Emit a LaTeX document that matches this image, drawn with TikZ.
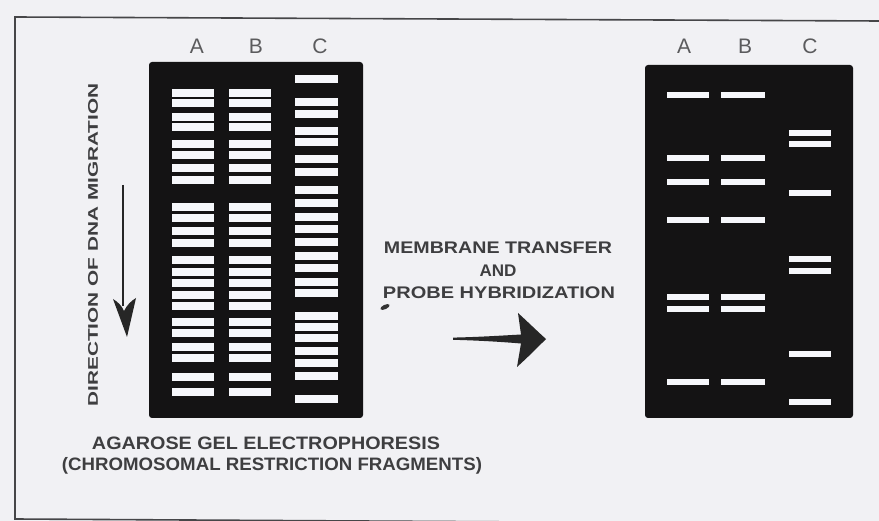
\documentclass[tikz,border=0pt]{standalone}
\usepackage{fontspec}
\setmainfont{Liberation Sans}
\usepackage{graphicx}
\definecolor{bgc}{RGB}{241,241,244}
\definecolor{gelc}{RGB}{20,19,20}
\definecolor{bandc}{RGB}{246,247,251}
\definecolor{txtc}{RGB}{62,62,64}
\definecolor{framec}{RGB}{70,70,72}
\newcommand{\wfit}[2]{\resizebox{#1pt}{\height}{#2}}
\tikzset{
  gel/.style={fill=gelc, draw=none, rounded corners=3pt, inner sep=0pt},
  band/.style={fill=bandc},
  lbl/.style={text=txtc!85, inner sep=0pt, font=\fontsize{21}{21}\selectfont},
  captxt/.style={text=txtc, inner sep=0pt},
  framel/.style={draw=framec, line width=1.6pt},
  arr/.style={fill=black!85}
}
\begin{document}
\begin{tikzpicture}[x=1pt,y=-1pt]
\useasboundingbox (0,0) rectangle (879,521);
\fill[bgc] (0,0) rectangle (879,521);
% frame
\draw[framel] (879,21) -- (15,17) -- (15,519) -- (879,524);
% gels
\node[gel, minimum width=214pt, minimum height=356pt] (gelL) at (256,240) {};
\node[gel, minimum width=208pt, minimum height=353pt] (gelR) at (749,241.5) {};
% left gel bands
\foreach \y in {93,103,117,127,144,155,168,180,207,218,231,243,260,272,283,295,306,322,333,347,358,377,392}{
  \fill[band] (172,\y-3.8) rectangle (214,\y+3.8);
  \fill[band] (229,\y-3.8) rectangle (271,\y+3.8);
}
\foreach \y in {79,102,114,131,142,159,172,190,203,217,229,242,256,268,282,293,316,327,338,351,363,376,399}{
  \fill[band] (295,\y-3.8) rectangle (338,\y+3.8);
}
% right gel bands
\foreach \y in {95,158,182,220,297,309,382}{
  \fill[band] (667,\y-3.3) rectangle (709,\y+3.3);
  \fill[band] (721,\y-3.3) rectangle (765,\y+3.3);
}
\foreach \y in {133,144,193,259,271,354,402}{
  \fill[band] (789,\y-3.3) rectangle (831,\y+3.3);
}
% lane labels
\node[lbl] (lA) at (197,46) {A};
\node[lbl] (lB) at (256,46) {B};
\node[lbl] (lC) at (320,46) {C};
\node[lbl] (rA) at (684,46) {A};
\node[lbl] (rB) at (745,46) {B};
\node[lbl] (rC) at (810,46) {C};
% direction text and arrow
\node[captxt, rotate=90, font=\bfseries\fontsize{14}{14}\selectfont] (dir) at (93,245) {\wfit{323}{DIRECTION OF DNA MIGRATION}};
\coordinate (dtop) at (123,185);
\coordinate (dbot) at (123,306);
\draw[line width=1.6pt, black!85] (dtop) -- (dbot);
\fill[arr] (113,299) .. controls (118,302) and (122,306) .. (124,311) .. controls (127,305) and (131,301) .. (136,298) -- (127,337) -- cycle;
% middle texts
\node[captxt, font=\bfseries\fontsize{16.8}{17}\selectfont] (mt1) at (498,248) {\wfit{228}{MEMBRANE TRANSFER}};
\node[captxt, font=\bfseries\fontsize{16.8}{17}\selectfont] (mt2) at (498,271) {\wfit{37}{AND}};
\node[captxt, font=\bfseries\fontsize{16.8}{17}\selectfont] (mt3) at (499,293) {\wfit{232}{PROBE HYBRIDIZATION}};
\fill[black!80, rotate around={25:(385,307)}] (385,307) ellipse [x radius=5pt, y radius=2.2pt];
% big arrow
\fill[arr] (453,337.6) .. controls (480,337) and (503,335.5) .. (521,334.5) -- (518,313) .. controls (528,322) and (537,331) .. (546,339) .. controls (537,348) and (527,358) .. (517,367) -- (521,343.5) .. controls (503,342) and (480,340.5) .. (453,339.8) -- cycle;
% bottom texts
\node[captxt, font=\bfseries\fontsize{18}{18}\selectfont] (bt1) at (266,443) {\wfit{348}{AGAROSE GEL ELECTROPHORESIS}};
\node[captxt, font=\bfseries\fontsize{18}{18}\selectfont] (bt2) at (272,466) {\wfit{420}{(CHROMOSOMAL RESTRICTION FRAGMENTS)}};
\end{tikzpicture}
\end{document}
